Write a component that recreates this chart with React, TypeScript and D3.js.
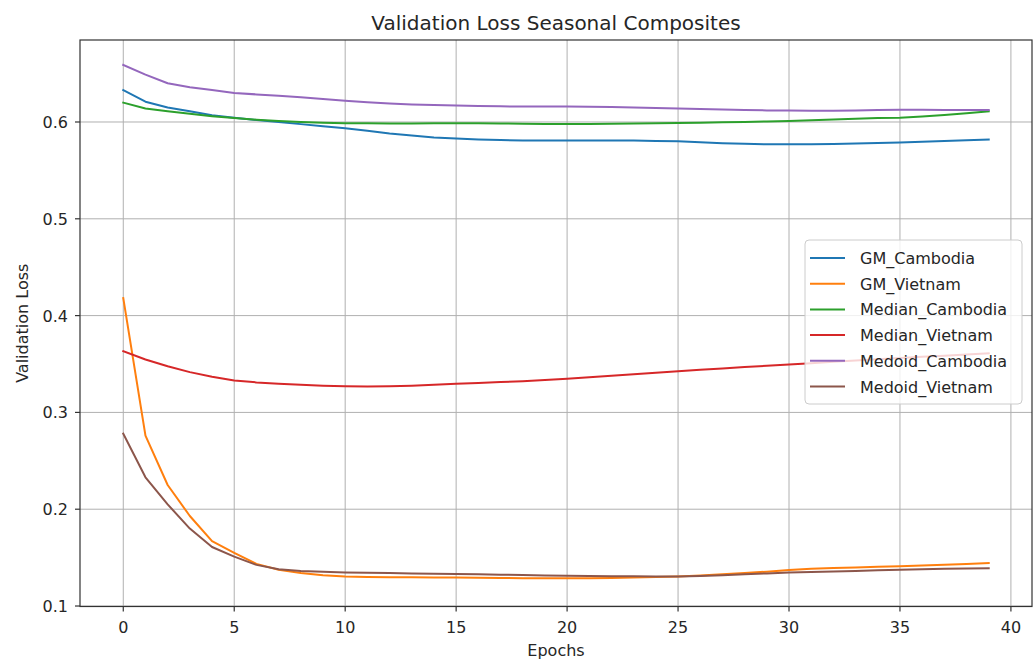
import React from "react";
import * as d3 from "d3";

// Epoch indices 0..39
const epochs: number[] = Array.from({ length: 40 }, (_, i) => i);

const seriesNames: string[] = [
  "GM_Cambodia",
  "GM_Vietnam",
  "Median_Cambodia",
  "Median_Vietnam",
  "Medoid_Cambodia",
  "Medoid_Vietnam",
];

const seriesColors: string[] = ["#1f77b4", "#ff7f0e", "#2ca02c", "#d62728", "#9467bd", "#8c564b"];

const gmCambodia: number[] = [
  0.633, 0.621, 0.615, 0.611, 0.607, 0.6045, 0.602, 0.6, 0.5978, 0.5957,
  0.5935, 0.591, 0.588, 0.586, 0.584, 0.583, 0.582, 0.5813, 0.581, 0.581,
  0.581, 0.581, 0.581, 0.5808, 0.5803, 0.58, 0.579, 0.578, 0.5775, 0.577,
  0.577, 0.577, 0.5772, 0.5777, 0.5782, 0.5787, 0.5795, 0.5803, 0.5812, 0.582,
];

const gmVietnam: number[] = [
  0.418, 0.276, 0.225, 0.193, 0.167, 0.155, 0.1435, 0.1375, 0.134, 0.1318,
  0.1306, 0.13, 0.1298, 0.1296, 0.1295, 0.1294, 0.1292, 0.129, 0.1288, 0.1287,
  0.1286, 0.1287, 0.129, 0.1295, 0.13, 0.1305, 0.1315, 0.1328, 0.134, 0.1355,
  0.1372, 0.1385, 0.1393, 0.1399, 0.1405, 0.141, 0.1418, 0.1426, 0.1435, 0.1443,
];

const medianCambodia: number[] = [
  0.62, 0.614, 0.611, 0.6085, 0.606, 0.604, 0.6023, 0.601, 0.6, 0.5993,
  0.5988, 0.5986, 0.5985, 0.5985, 0.5986, 0.5987, 0.5986, 0.5984, 0.5982, 0.598,
  0.598, 0.598, 0.5982, 0.5985, 0.5988, 0.599, 0.5993, 0.5997, 0.6, 0.6005,
  0.601, 0.6017, 0.6025, 0.6033, 0.604, 0.6045, 0.6057, 0.6073, 0.609, 0.611,
];

const medianVietnam: number[] = [
  0.3632, 0.3546, 0.3477, 0.3416, 0.3368, 0.333, 0.331, 0.3296, 0.3285, 0.3276,
  0.327, 0.3268, 0.327, 0.3276, 0.3285, 0.3296, 0.3305, 0.3314, 0.3323, 0.3335,
  0.3347, 0.3363, 0.3379, 0.3395, 0.341, 0.3426, 0.344, 0.3454, 0.3468, 0.3482,
  0.3495, 0.3509, 0.3523, 0.3537, 0.355, 0.3562, 0.3574, 0.3586, 0.3598, 0.361,
];

const medoidCambodia: number[] = [
  0.659, 0.649, 0.64, 0.636, 0.633, 0.63, 0.6285, 0.627, 0.6255, 0.6238,
  0.622, 0.6205, 0.619, 0.618, 0.6175, 0.617, 0.6165, 0.6162, 0.616, 0.616,
  0.616, 0.6158, 0.6155, 0.615, 0.6145, 0.614, 0.6135, 0.613, 0.6125, 0.612,
  0.6118, 0.6115, 0.6115, 0.612, 0.6125, 0.6127, 0.6126, 0.6125, 0.6125, 0.6125,
];

const medoidVietnam: number[] = [
  0.278, 0.233, 0.205, 0.18, 0.161, 0.151, 0.1425, 0.138, 0.1362, 0.1353,
  0.1347, 0.1343, 0.134, 0.1336, 0.1333, 0.133, 0.1327, 0.1323, 0.132, 0.1316,
  0.1313, 0.131, 0.1308, 0.1307, 0.1306, 0.1306, 0.1311, 0.1318, 0.1327, 0.1337,
  0.1347, 0.1352, 0.1357, 0.1363, 0.1369, 0.1375, 0.138, 0.1384, 0.1387, 0.139,
];

const xTicks: number[] = [0, 5, 10, 15, 20, 25, 30, 35, 40];
const yTicks: number[] = [0.1, 0.2, 0.3, 0.4, 0.5, 0.6];

const allSeries: number[][] = [gmCambodia, gmVietnam, medianCambodia, medianVietnam, medoidCambodia, medoidVietnam];

const W = 1034;
const H = 669;
const left = 80;
const right = 1032;
const top = 40;
const bottom = 606.5;
const font = "'DejaVu Sans', sans-serif";
const textColor = "#262626";

export default function App() {
  const x = d3.scaleLinear().domain([-1.95, 40.95]).range([left, right]);
  const y = d3.scaleLinear().domain([0.0995, 0.6847]).range([bottom, top]);
  const line = d3
    .line<number>()
    .x((_, i) => x(epochs[i]))
    .y((d) => y(d));

  const legX = 805;
  const legY = 240;
  const legW = 217;
  const legH = 164;
  const rowGap = 25.7;

  return (
    <svg
      width={W}
      height={H}
      style={{ position: "absolute", left: 0, top: 0, background: "#fff" }}
      fontFamily={font}
    >
      <rect x={0} y={0} width={W} height={H} fill="#fff" />
      {/* grid */}
      {xTicks.map((t) => (
        <line key={"gx" + t} x1={x(t)} x2={x(t)} y1={top} y2={bottom} stroke="#b0b0b0" strokeWidth={1} />
      ))}
      {yTicks.map((t) => (
        <line key={"gy" + t} x1={left} x2={right} y1={y(t)} y2={y(t)} stroke="#b0b0b0" strokeWidth={1} />
      ))}
      {/* series */}
      {allSeries.map((s, i) => (
        <path key={seriesNames[i]} d={line(s) || ""} fill="none" stroke={seriesColors[i]} strokeWidth={2} strokeLinejoin="round" strokeLinecap="square" />
      ))}
      {/* frame */}
      <rect x={left} y={top} width={right - left} height={bottom - top} fill="none" stroke="#333" strokeWidth={1.2} />
      {/* ticks */}
      {xTicks.map((t) => (
        <g key={"tx" + t}>
          <line x1={x(t)} x2={x(t)} y1={bottom} y2={bottom + 5} stroke="#333" strokeWidth={1.2} />
          <text x={x(t)} y={633} textAnchor="middle" fontSize={16} fill={textColor}>
            {t}
          </text>
        </g>
      ))}
      {yTicks.map((t) => (
        <g key={"ty" + t}>
          <line x1={left - 5} x2={left} y1={y(t)} y2={y(t)} stroke="#333" strokeWidth={1.2} />
          <text x={68} y={y(t) + 6} textAnchor="end" fontSize={16} fill={textColor}>
            {t.toFixed(1)}
          </text>
        </g>
      ))}
      {/* labels */}
      <text x={(left + right) / 2} y={30} textAnchor="middle" fontSize={20} fill={textColor}>
        Validation Loss Seasonal Composites
      </text>
      <text x={(left + right) / 2} y={656} textAnchor="middle" fontSize={16} fill={textColor}>
        Epochs
      </text>
      <text
        transform={`translate(28, ${(top + bottom) / 2}) rotate(-90)`}
        textAnchor="middle"
        fontSize={16}
        fill={textColor}
      >
        Validation Loss
      </text>
      {/* legend */}
      <rect x={legX} y={legY} width={legW} height={legH} rx={4} fill="#fff" fillOpacity={0.8} stroke="#cccccc" strokeWidth={1} />
      {seriesNames.map((n, i) => {
        const ry = legY + 18 + i * rowGap;
        return (
          <g key={"leg" + n}>
            <line x1={legX + 5} x2={legX + 40} y1={ry} y2={ry} stroke={seriesColors[i]} strokeWidth={2} />
            <text x={legX + 55} y={ry + 6} fontSize={16} fill={textColor}>
              {n}
            </text>
          </g>
        );
      })}
    </svg>
  );
}
